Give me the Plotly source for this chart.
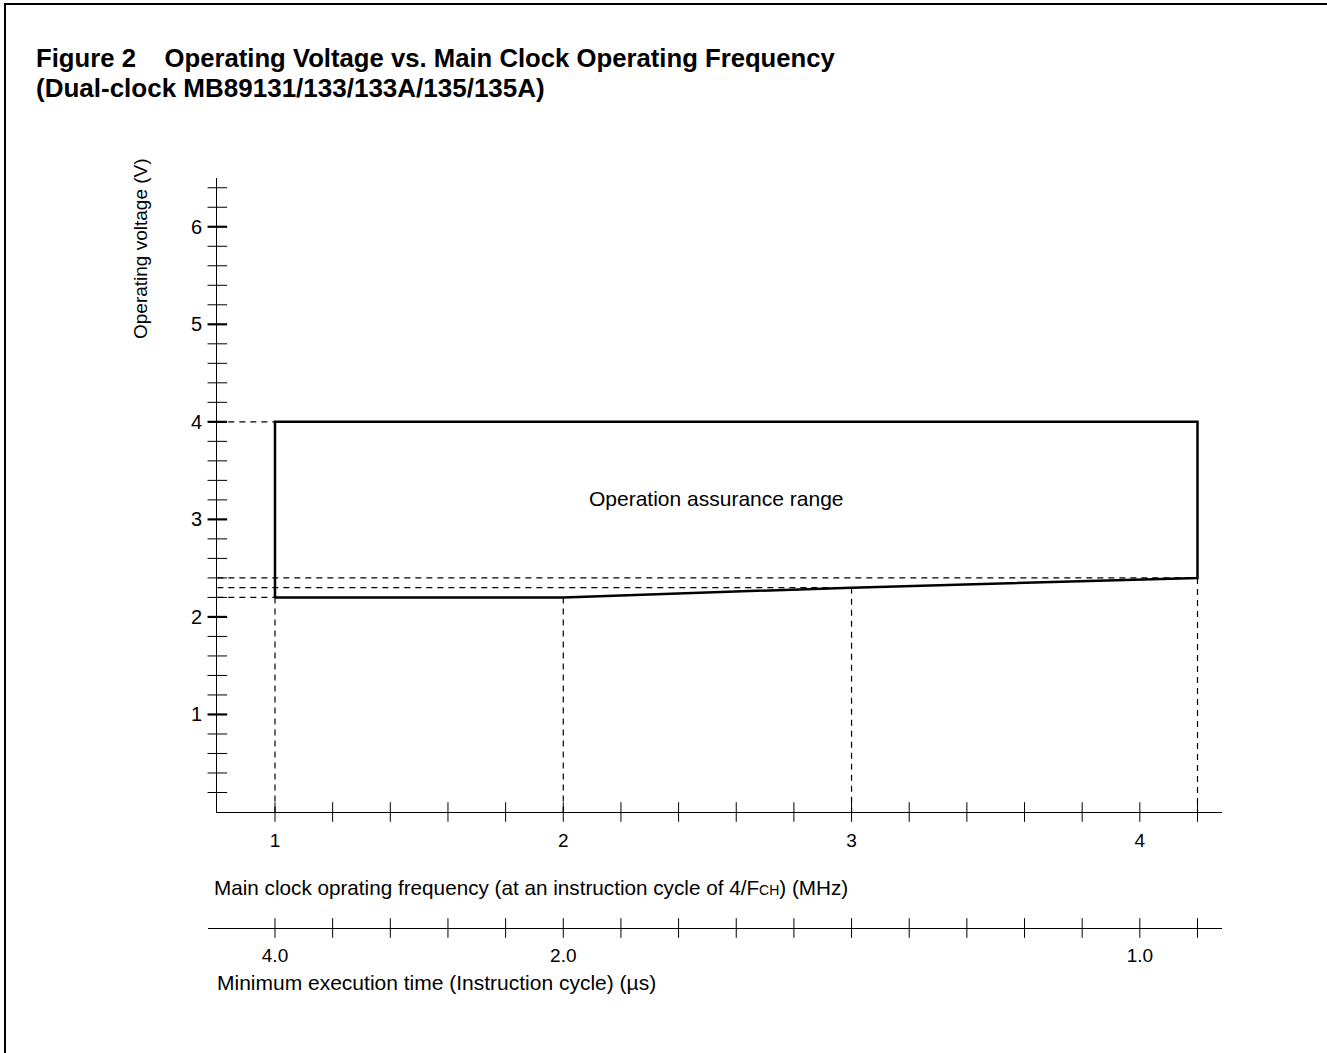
import plotly.graph_objects as go

# ---------------- data ----------------
freq_points = [1.0, 2.0, 3.0, 4.2]          # MHz, corners of the lower boundary
vmin_points = [2.2, 2.2, 2.3, 2.4]          # V, lower boundary of assurance range
vmax = 4.0                                   # V, upper boundary
x_range = [0.8, 4.285]
y_range = [0.0, 6.5]
x_tick_labels = [1, 2, 3, 4]
x_minor_ticks = [round(1.0 + 0.2 * i, 1) for i in range(17)]   # 1.0 .. 4.2
y_tick_labels = [1, 2, 3, 4, 5, 6]
y_minor_ticks = [round(0.2 * i, 1) for i in range(1, 33) if i % 5 != 0]
exec_time_labels = [4.0, 2.0, 1.0]           # µs (instruction cycle = 4 / F)

W, H = 1327, 1053
def fx(p):
    return p / W
def fy(p):
    return 1 - p / H

FONT = "Liberation Sans, Arial, sans-serif"

fig = go.Figure()

# dashed guide lines (horizontal to y-axis, vertical to x-axis)
h_lines = [(vmax, freq_points[0])] + [(v, f) for f, v in zip(freq_points, vmin_points) if f != freq_points[1]]
for v, f in h_lines:
    fig.add_trace(go.Scatter(x=[x_range[0], f], y=[v, v], mode="lines",
                             line=dict(color="black", width=1.2, dash="6px,5px"),
                             hoverinfo="skip", showlegend=False))
for f, v in zip(freq_points, vmin_points):
    fig.add_trace(go.Scatter(x=[f, f], y=[v, y_range[0]], mode="lines",
                             line=dict(color="black", width=1.2, dash="6px,5px"),
                             hoverinfo="skip", showlegend=False))

# operation assurance polygon
px = freq_points + [freq_points[-1], freq_points[0], freq_points[0]]
py = vmin_points + [vmax, vmax, vmin_points[0]]
fig.add_trace(go.Scatter(x=px, y=py, mode="lines",
                         line=dict(color="black", width=2.5),
                         hoverinfo="skip", showlegend=False))

# crossing tick marks on the main axes
fig.add_trace(go.Scatter(x=x_minor_ticks, y=[y_range[0]] * len(x_minor_ticks), mode="markers",
                         marker=dict(symbol="line-ns", size=14, line=dict(color="black", width=1)),
                         cliponaxis=False, hoverinfo="skip", showlegend=False))
fig.add_trace(go.Scatter(x=[x_range[0]] * len(y_minor_ticks), y=y_minor_ticks, mode="markers",
                         marker=dict(symbol="line-ew", size=14, line=dict(color="black", width=1)),
                         cliponaxis=False, hoverinfo="skip", showlegend=False))
fig.add_trace(go.Scatter(x=[x_range[0]] * len(y_tick_labels), y=y_tick_labels, mode="markers",
                         marker=dict(symbol="line-ew", size=14, line=dict(color="black", width=2.2)),
                         cliponaxis=False, hoverinfo="skip", showlegend=False))

# secondary (execution time) axis ticks
fig.add_trace(go.Scatter(x=x_minor_ticks, y=[0] * len(x_minor_ticks), xaxis="x2", yaxis="y2",
                         mode="markers",
                         marker=dict(symbol="line-ns", size=14, line=dict(color="black", width=1)),
                         cliponaxis=False, hoverinfo="skip", showlegend=False))

scale = (W * (fx(1222) - fx(217.33))) / (x_range[1] - x_range[0])  # px per MHz
x2_left = x_range[0] - (217.33 - 208) / scale

fig.update_layout(
    width=W, height=H,
    margin=dict(l=0, r=0, t=0, b=0),
    paper_bgcolor="white", plot_bgcolor="white",
    font=dict(family=FONT, color="black", size=19),
    xaxis=dict(domain=[fx(217.33), fx(1222)], range=x_range, anchor="y",
               showline=True, linecolor="black", linewidth=1.3,
               showgrid=False, zeroline=False, ticks="",
               tickvals=x_tick_labels, ticktext=[str(v) for v in x_tick_labels],
               ticklabelstandoff=11, tickfont=dict(size=19, family=FONT)),
    yaxis=dict(domain=[fy(812), fy(178)], range=y_range, anchor="x",
               showline=True, linecolor="black", linewidth=1.3,
               showgrid=False, zeroline=False, ticks="",
               tickvals=y_tick_labels, ticktext=[str(v) for v in y_tick_labels],
               ticklabelstandoff=10, tickfont=dict(size=20, family=FONT)),
    xaxis2=dict(domain=[fx(208), fx(1222)], range=[x2_left, x_range[1]], anchor="y2",
                showline=True, linecolor="black", linewidth=1.3,
                showgrid=False, zeroline=False, ticks="",
                tickvals=[4.0 / t for t in exec_time_labels],
                ticktext=[f"{t:.1f}" for t in exec_time_labels],
                ticklabelstandoff=10, tickfont=dict(size=19, family=FONT)),
    yaxis2=dict(domain=[fy(928), fy(918)], range=[0, 1], anchor="x2", visible=False),
    shapes=[
        dict(type="line", xref="paper", yref="paper", x0=fx(4), x1=1, y0=fy(4), y1=fy(4),
             line=dict(color="black", width=2)),
        dict(type="line", xref="paper", yref="paper", x0=fx(5), x1=fx(5), y0=fy(4), y1=0,
             line=dict(color="black", width=2)),
    ],
    annotations=[
        dict(text="<b>Figure 2    Operating Voltage vs. Main Clock Operating Frequency</b>",
             xref="paper", yref="paper", x=fx(34), y=fy(58), xanchor="left", yanchor="middle",
             showarrow=False, font=dict(family=FONT, size=25.7)),
        dict(text="<b>(Dual-clock MB89131/133/133A/135/135A)</b>",
             xref="paper", yref="paper", x=fx(34), y=fy(88), xanchor="left", yanchor="middle",
             showarrow=False, font=dict(family=FONT, size=26)),
        dict(text="Operating voltage (V)", textangle=-90,
             xref="paper", yref="paper", x=fx(141), y=fy(249), xanchor="center", yanchor="middle",
             showarrow=False, font=dict(family=FONT, size=19)),
        dict(text="Operation assurance range", xref="x", yref="y", x=2.533, y=3.21,
             showarrow=False, font=dict(family=FONT, size=21)),
        dict(text="Main clock oprating frequency (at an instruction cycle of 4/F<span style='font-size:14px'>CH</span>) (MHz)",
             xref="paper", yref="paper", x=fx(212), y=fy(887), xanchor="left", yanchor="middle",
             showarrow=False, font=dict(family=FONT, size=20.7)),
        dict(text="Minimum execution time (Instruction cycle) (µs)",
             xref="paper", yref="paper", x=fx(215), y=fy(982), xanchor="left", yanchor="middle",
             showarrow=False, font=dict(family=FONT, size=21)),
    ],
)

fig.write_html("out.html", config={"displayModeBar": False},
               post_script="document.body.style.margin='0';")
